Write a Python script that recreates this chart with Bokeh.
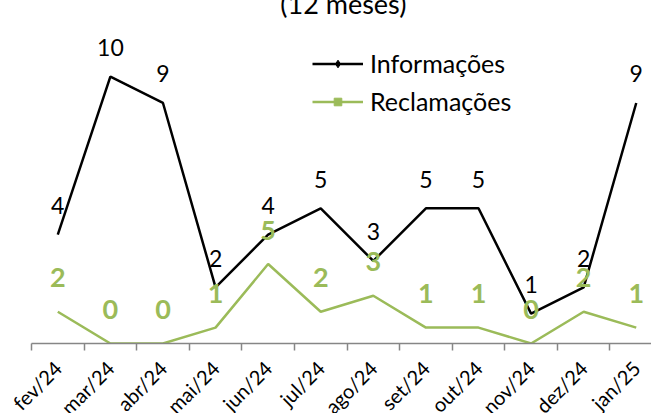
import math
from bokeh.plotting import figure
from bokeh.models import Range1d, FixedTicker, Legend, LegendItem, Label, ColumnDataSource
from bokeh.core.properties import value
from bokeh.embed import file_html
from bokeh.resources import INLINE

months = ["fev/24", "mar/24", "abr/24", "mai/24", "jun/24", "jul/24",
          "ago/24", "set/24", "out/24", "nov/24", "dez/24", "jan/25"]
informacoes = [4, 10, 9, 2, 4, 5, 3, 5, 5, 1, 2, 9]
reclamacoes = [2, 0, 0, 1, 5, 2, 3, 1, 1, 0, 2, 1]
title_text = "(12 meses)"

GREEN = "#9BBB59"
FONT = "Lato"

xpos = [i + 0.5 for i in range(len(months))]
src = ColumnDataSource(dict(
    x=xpos,
    info=informacoes,
    recl=reclamacoes,
    info_txt=[str(v) for v in informacoes],
    recl_txt=[str(v) for v in reclamacoes],
))

SHIFT = 30
W, H = 651, 443 + SHIFT
p = figure(width=W, height=H, output_backend="svg", toolbar_location=None,
           x_range=Range1d(0, 11.79), y_range=Range1d(0, 23.46),
           min_border_left=31, min_border_right=0, min_border_top=0,
           min_border_bottom=100, outline_line_color=None)
p.margin = (-SHIFT, 0, 0, 0)
p.extra_y_ranges = {"info": Range1d(-0.133, 14.03)}
p.xgrid.visible = False
p.ygrid.visible = False
p.yaxis.visible = False

ax = p.xaxis[0]
ax.ticker = FixedTicker(ticks=xpos, minor_ticks=list(range(len(months) + 1)))
ax.major_label_overrides = {x: m for x, m in zip(xpos, months)}
ax.major_label_orientation = math.pi / 4
ax.major_tick_out = 0
ax.major_tick_in = 0
ax.minor_tick_out = 7
ax.minor_tick_in = 0
ax.minor_tick_line_color = "#868686"
ax.minor_tick_line_width = 1.5
ax.axis_line_color = "#868686"
ax.axis_line_width = 1.5
ax.major_label_text_font = FONT
ax.major_label_text_font_size = "20px"
ax.major_label_text_color = "#000000"
ax.major_label_standoff = 14

l_recl = p.line("x", "recl", source=src, color=GREEN, line_width=2.5)
l_info = p.line("x", "info", source=src, y_range_name="info", color="black", line_width=2.5)

# markers only shown in the legend (the chart's lines have no markers)
m_info = p.scatter("x", "info", source=src, y_range_name="info",
                   marker="diamond", size=7, color="black")
m_recl = p.scatter("x", "recl", source=src, marker="square", size=7, color=GREEN)
m_info.visible = False
m_recl.visible = False

p.text("x", "info", text="info_txt", source=src, y_range_name="info",
       text_align="center", text_baseline="alphabetic", y_offset=-29,
       text_font=value(FONT), text_font_size="23px", text_color="black")
p.text("x", "recl", text="recl_txt", source=src,
       text_align="center", text_baseline="alphabetic", y_offset=-34,
       text_font=value(FONT), text_font_size="27px", text_font_style="bold",
       text_color=GREEN)

p.add_layout(Label(x=5.93, y=21.4, text=title_text, text_align="center",
                   text_baseline="alphabetic", text_font=FONT,
                   text_font_size="27px", text_color="black"))

legend = Legend(items=[LegendItem(label="Informações", renderers=[l_info, m_info]),
                       LegendItem(label="Reclamações", renderers=[l_recl, m_recl])],
                location=(281, 223), padding=0, margin=0, spacing=0,
                glyph_width=51, glyph_height=19, label_height=38, label_standoff=7,
                label_text_font=FONT, label_text_font_size="25px",
                label_text_color="black",
                border_line_alpha=0, background_fill_alpha=0)
p.add_layout(legend)

open("out.html", "w").write(file_html(p, INLINE))
